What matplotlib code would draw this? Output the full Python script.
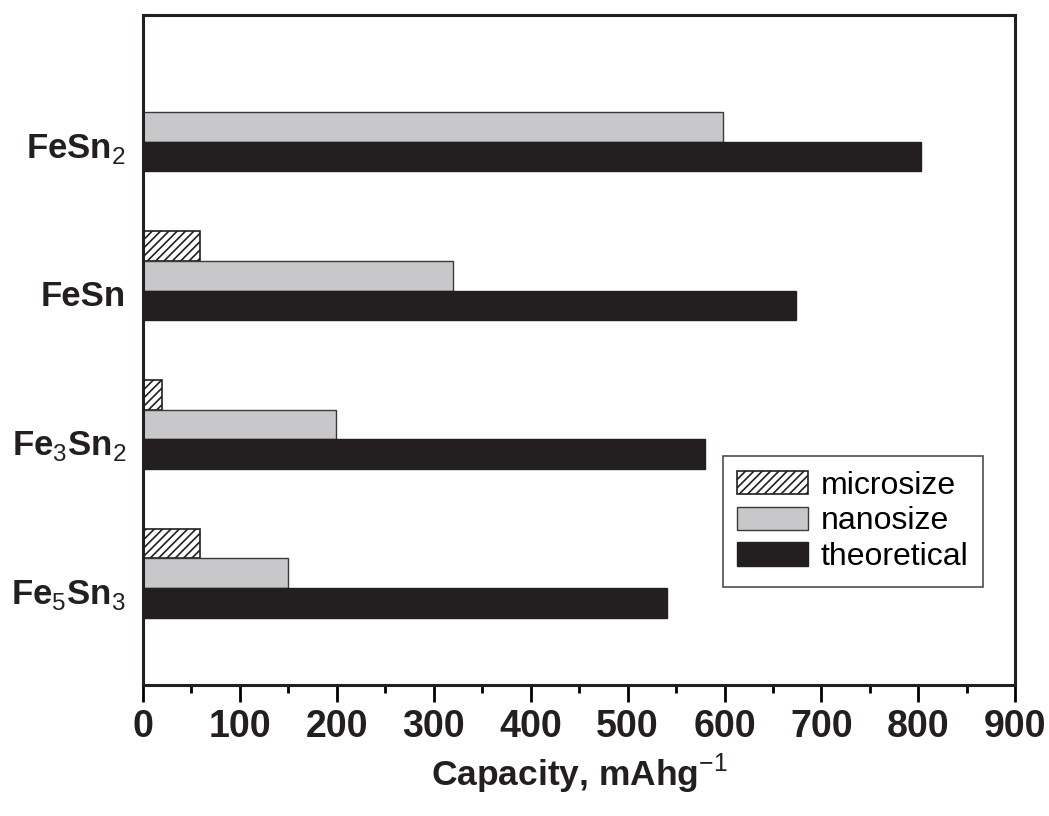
import numpy as np
import matplotlib
matplotlib.use('Agg')
import matplotlib.pyplot as plt
from matplotlib.ticker import MultipleLocator

plt.rcParams['font.family'] = 'Liberation Sans'
plt.rcParams['mathtext.fontset'] = 'custom'
plt.rcParams['mathtext.rm'] = 'Liberation Sans'
plt.rcParams['mathtext.bf'] = 'Liberation Sans:bold'
plt.rcParams['hatch.linewidth'] = 1.2

# compounds, bottom to top
compounds = [r'Fe$_{\mathrm{5}}$Sn$_{\mathrm{3}}$', r'Fe$_{\mathrm{3}}$Sn$_{\mathrm{2}}$',
             'FeSn', r'FeSn$_{\mathrm{2}}$']
microsize = [59, 20, 59, 0]
nanosize = [150, 199, 320, 598]
theoretical = [541, 580, 674, 803]
x_ticks = [0, 100, 200, 300, 400, 500, 600, 700, 800, 900]

fig = plt.figure(figsize=(10.49, 8.16), dpi=100)
ax = fig.add_axes([0.136, 0.1605, 0.832, 0.821])

y = np.arange(len(compounds))
h = 0.2
ax.barh(y + h, microsize, height=h, color='white', edgecolor='#231f20',
        hatch='////', linewidth=1.2, label='microsize')
ax.barh(y, nanosize, height=h, color='#c8c8ca', edgecolor='#3a3a3a',
        linewidth=1.0, label='nanosize')
ax.barh(y - h, theoretical, height=h, color='#231f20', edgecolor='#231f20',
        linewidth=1.0, label='theoretical')

ax.set_xlim(0, 900)
ax.set_ylim(-0.75, 3.75)
ax.set_xticks(x_ticks)
ax.xaxis.set_minor_locator(MultipleLocator(50))
ax.tick_params(axis='x', which='major', length=12, width=2, labelsize=27, pad=5)
ax.tick_params(axis='x', which='minor', length=6, width=2)
for lbl in ax.get_xticklabels():
    lbl.set_fontweight('bold')
    lbl.set_color('#231f20')

ax.set_yticks(y - 0.12)
ax.set_yticklabels(compounds, fontsize=25, fontweight='bold', color='#231f20')
ax.tick_params(axis='y', length=0, pad=12)

for s in ax.spines.values():
    s.set_linewidth(2.2)
    s.set_color('#231f20')

ax.set_xlabel('Capacity, mAhg$^{\\mathrm{-1}}$', fontsize=25.5, fontweight='bold',
              color='#231f20', labelpad=5)

leg = ax.legend(loc='lower left', bbox_to_anchor=(0.665, 0.147), fontsize=23,
                frameon=True, fancybox=False, edgecolor='#231f20',
                handlelength=2.2, handleheight=0.75, handletextpad=0.4,
                borderpad=0.45, labelspacing=0.18, borderaxespad=0)
leg.get_frame().set_linewidth(1.2)

fig.savefig('out.png', dpi=100)
